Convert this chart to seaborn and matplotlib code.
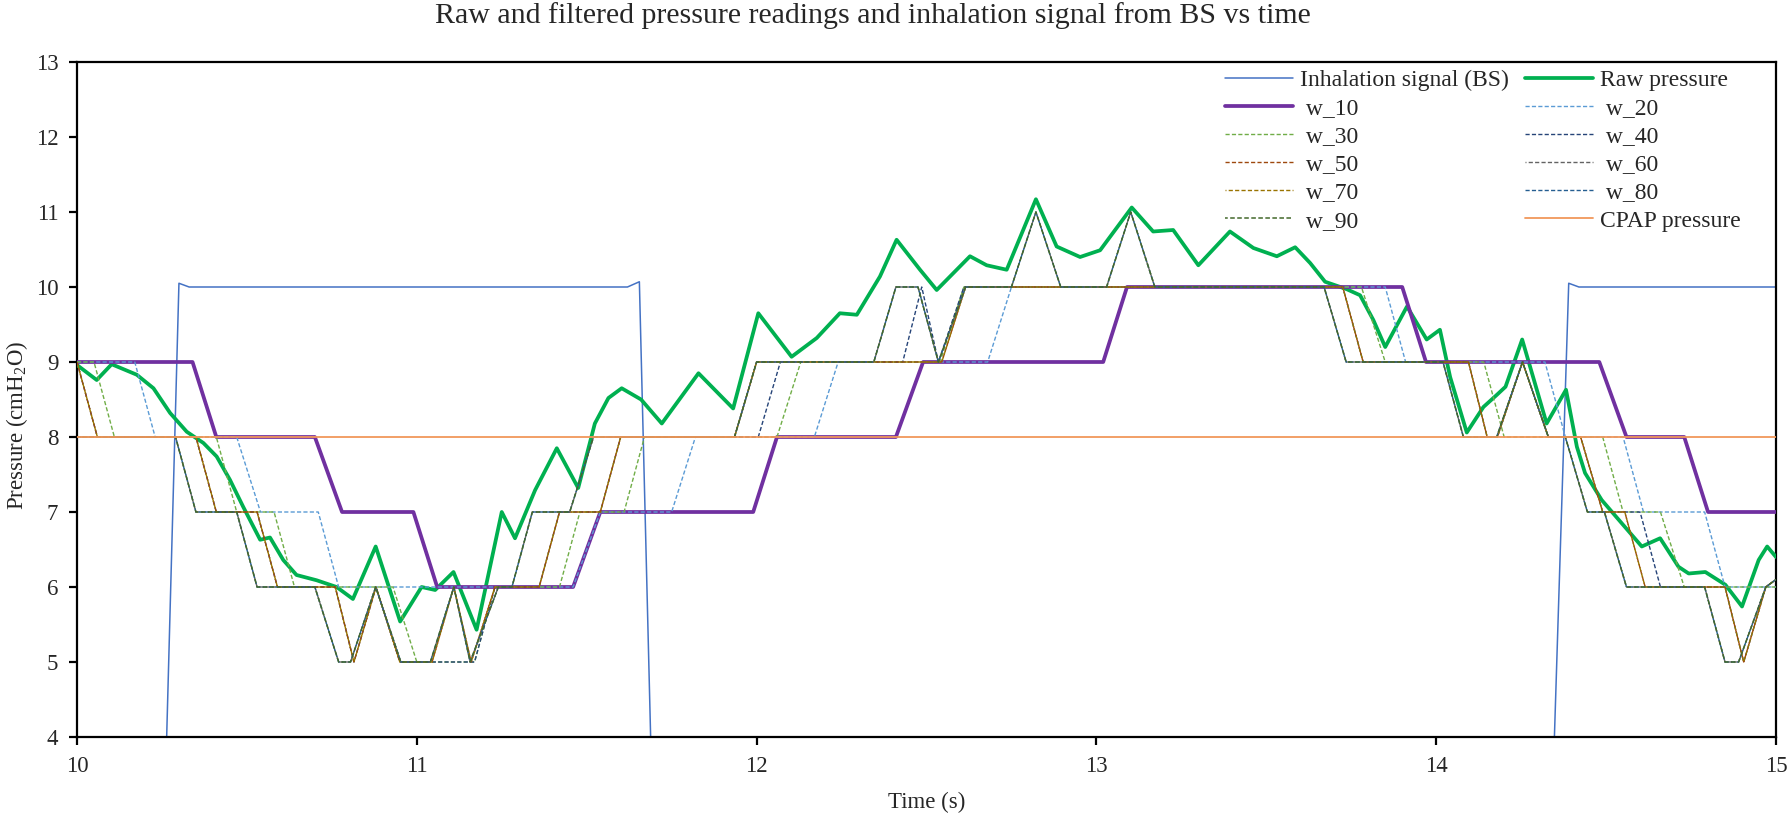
import numpy as np
import pandas as pd
import matplotlib
matplotlib.use('Agg')
import matplotlib.pyplot as plt
from matplotlib.lines import Line2D
import seaborn as sns

# ---- data (time in s, pressure in cmH2O) ----
inh_t = [10.00, 10.24, 10.30, 10.33, 11.62, 11.655, 11.71, 14.32, 14.39, 14.42, 15.00]
inh_v = [0, 0, 10.05, 10, 10, 10.07, 0, 0, 10.05, 10, 10]

raw_t = [10.000, 10.058, 10.102, 10.176, 10.225, 10.274, 10.323, 10.372, 10.411, 10.450,
         10.489, 10.539, 10.568, 10.607, 10.646, 10.705, 10.764, 10.812, 10.879, 10.951,
         11.014, 11.054, 11.108, 11.176, 11.250, 11.289, 11.348, 11.412, 11.475, 11.524,
         11.564, 11.603, 11.660, 11.721, 11.829, 11.931, 12.005, 12.103, 12.177, 12.245,
         12.295, 12.363, 12.412, 12.481, 12.530, 12.628, 12.677, 12.736, 12.822, 12.883,
         12.952, 13.011, 13.104, 13.167, 13.226, 13.300, 13.393, 13.462, 13.531, 13.585,
         13.629, 13.673, 13.737, 13.776, 13.815, 13.850, 13.914, 13.972, 14.011, 14.041,
         14.090, 14.139, 14.178, 14.204, 14.253, 14.325, 14.382, 14.414, 14.438, 14.487,
         14.546, 14.605, 14.659, 14.713, 14.743, 14.792, 14.851, 14.900, 14.949, 14.974,
         15.000]
raw_v = [8.96, 8.76, 8.97, 8.83, 8.65, 8.32, 8.07, 7.92, 7.74, 7.43,
         7.07, 6.63, 6.66, 6.36, 6.16, 6.09, 6.00, 5.84, 6.54, 5.54,
         6.00, 5.96, 6.20, 5.43, 7.00, 6.65, 7.29, 7.85, 7.32, 8.18,
         8.52, 8.65, 8.50, 8.18, 8.85, 8.38, 9.65, 9.07, 9.32, 9.65,
         9.63, 10.14, 10.63, 10.23, 9.96, 10.41, 10.29, 10.23, 11.17, 10.54,
         10.40, 10.49, 11.06, 10.74, 10.76, 10.29, 10.74, 10.52, 10.41, 10.53,
         10.32, 10.07, 9.97, 9.89, 9.56, 9.20, 9.74, 9.30, 9.43, 8.80,
         8.06, 8.40, 8.56, 8.67, 9.30, 8.18, 8.63, 7.87, 7.52, 7.16,
         6.85, 6.54, 6.65, 6.27, 6.18, 6.20, 6.03, 5.74, 6.36, 6.54,
         6.40]

w10_t = [10.00, 10.34, 10.41, 10.70, 10.78, 10.99, 11.06, 11.46, 11.54, 11.99, 12.06,
         12.41, 12.49, 13.02, 13.09, 13.90, 13.97, 14.48, 14.56, 14.73, 14.80, 15.00]
w10_v = [9, 9, 8, 8, 7, 7, 6, 6, 7, 7, 8, 8, 9, 9, 10, 10, 9, 9, 8, 8, 7, 7]

w20_t = [10.00, 10.17, 10.23, 10.47, 10.54, 10.71, 10.77, 11.46, 11.54, 11.75, 11.82,
         12.17, 12.24, 12.68, 12.75, 13.85, 13.91, 14.32, 14.38, 14.55, 14.61, 14.79,
         14.85, 15.00]
w20_v = [9, 9, 8, 8, 7, 7, 6, 6, 7, 7, 8, 8, 9, 9, 10, 10, 9, 9, 8, 8, 7, 7, 6, 6]

w30_t = [10.00, 10.05, 10.11, 10.41, 10.47, 10.58, 10.64, 10.93, 11.00, 11.17, 11.23,
         11.42, 11.48, 11.61, 11.67, 12.06, 12.13, 12.54, 12.61, 13.78, 13.85, 14.14,
         14.20, 14.49, 14.55, 14.66, 14.73, 15.00]
w30_v = [9, 9, 8, 8, 7, 7, 6, 6, 5, 5, 6, 6, 7, 7, 8, 8, 9, 9, 10, 10, 9, 9, 8, 8, 7, 7, 6, 6]

w40_t = [10.00, 10.06, 10.35, 10.41, 10.53, 10.59, 10.76, 10.815, 10.88, 10.95, 11.17,
         11.23, 11.36, 11.42, 11.54, 11.60, 12.005, 12.07, 12.43, 12.486, 12.535, 12.61,
         13.725, 13.785, 14.095, 14.15, 14.18, 14.254, 14.33, 14.425, 14.49, 14.60, 14.66,
         14.85, 14.905, 14.97, 15.00]
w40_v = [9, 8, 8, 7, 7, 6, 6, 5, 6, 5, 5, 6, 6, 7, 7, 8, 8, 9, 9, 10, 9, 10, 10, 9, 9, 8,
         8, 9, 8, 8, 7, 7, 6, 6, 5, 6, 6.1]

w50_t = [10.00, 10.06, 10.35, 10.41, 10.53, 10.59, 10.76, 10.815, 10.88, 10.95, 11.045,
         11.109, 11.16, 11.23, 11.36, 11.42, 11.54, 11.60, 11.935, 12.00, 12.545, 12.615,
         13.725, 13.785, 14.095, 14.15, 14.18, 14.254, 14.33, 14.425, 14.49, 14.555, 14.615,
         14.85, 14.905, 14.97, 15.00]
w50_v = [9, 8, 8, 7, 7, 6, 6, 5, 6, 5, 5, 6, 5, 6, 6, 7, 7, 8, 8, 9, 9, 10, 10, 9, 9, 8,
         8, 9, 8, 8, 7, 7, 6, 6, 5, 6, 6.1]

w90_t = [10.00, 10.29, 10.35, 10.47, 10.53, 10.70, 10.77, 10.805, 10.879, 10.953, 11.04,
         11.109, 11.157, 11.24, 11.28, 11.34, 11.45, 11.52, 11.935, 12.00, 12.345, 12.41,
         12.475, 12.535, 12.615, 12.75, 12.822, 12.895, 13.03, 13.101, 13.172, 13.67,
         13.735, 14.02, 14.08, 14.178, 14.254, 14.33, 14.38, 14.445, 14.495, 14.56, 14.79,
         14.85, 14.89, 14.97, 15.00]
w90_v = [8, 8, 7, 7, 6, 6, 5, 5, 6, 5, 5, 6, 5, 6, 6, 7, 7, 8, 8, 9, 9, 10, 10, 9, 10,
         10, 11, 10, 10, 11, 10, 10, 9, 9, 8, 8, 9, 8, 8, 7, 7, 6, 6, 5, 5, 6, 6.1]

cpap_t = [10.0, 15.0]
cpap_v = [8, 8]

names = ['Inhalation signal (BS)', 'Raw pressure', ' w_10', ' w_20', ' w_30', ' w_40',
         ' w_50', ' w_60', ' w_70', ' w_80', ' w_90', 'CPAP pressure']

sns.set_theme(style='white')
plt.rcParams['font.family'] = ['Liberation Serif', 'DejaVu Serif']
plt.rcParams['mathtext.fontset'] = 'custom'
plt.rcParams['mathtext.rm'] = 'Liberation Serif'
plt.rcParams['mathtext.it'] = 'Liberation Serif:italic'

fig = plt.figure(figsize=(17.92, 8.16), dpi=100)
ax = fig.add_axes([77 / 1792, 1 - 737 / 816, 1699 / 1792, 675 / 816])

dash = (0, (3, 1.6))
dash2 = (2.3, (3, 1.6))
# name, t, v, colour, width, linestyle
series = [
    (names[0], inh_t, inh_v, '#4472C4', 1.1, '-'),
    (names[1], raw_t, raw_v, '#00B050', 2.7, '-'),
    (names[2], w10_t, w10_v, '#7030A0', 2.7, '-'),
    (names[3], w20_t, w20_v, '#5B9BD5', 1.0, dash),
    (names[4], w30_t, w30_v, '#70AD47', 1.0, dash),
    (names[5], w40_t, w40_v, '#264478', 1.0, dash),
    (names[6], w50_t, w50_v, '#9E480E', 1.0, dash),
    (names[7], w90_t, w90_v, '#636363', 1.0, dash2),
    (names[8], w50_t, w50_v, '#997300', 1.0, dash2),
    (names[9], w90_t, w90_v, '#255E91', 1.0, dash),
    (names[10], w90_t, w90_v, '#43682B', 1.1, (1.2, (3, 1.6))),
    (names[11], cpap_t, cpap_v, '#F1975A', 1.3, '-'),
]

handles = []
for i, (name, t, v, c, lw, ls) in enumerate(series):
    df = pd.DataFrame({'Time': t, 'Pressure': v})
    sns.lineplot(data=df, x='Time', y='Pressure', ax=ax, color=c, linewidth=lw,
                 linestyle=ls, estimator=None, sort=False, zorder=2 + i)
    handles.append(Line2D([0], [0], color=c, linewidth=lw, linestyle=ls))

ax.set_xlim(10, 15)
ax.set_ylim(4, 13)
ax.set_xticks(range(10, 16))
ax.set_yticks(range(4, 14))
for s in ax.spines.values():
    s.set_color('black')
    s.set_linewidth(1.6)
ax.tick_params(axis='both', direction='out', length=5.5, width=1.6, color='black',
               labelsize=16.5, pad=8, bottom=True, left=True, top=False, right=False)
ax.set_xlabel('Time (s)', fontsize=16.5)
ax.set_ylabel('Pressure (cmH$_2$O)', fontsize=16.5)
ax.xaxis.set_label_coords(0.5, -0.081)
ax.yaxis.set_label_coords(-0.0275, 0.462)

order = [0, 2, 4, 6, 8, 10, 1, 3, 5, 7, 9, 11]
ax.legend([handles[k] for k in order], [names[k] for k in order], ncol=2,
          loc='upper left', bbox_to_anchor=(0.6754, 0.989), frameon=False,
          fontsize=17, handlelength=2.88, handletextpad=0.32, columnspacing=0.66,
          labelspacing=0.28, borderpad=0, borderaxespad=0)

fig.text(0.487, 1 - 16 / 816, 'Raw and filtered pressure readings and inhalation signal from BS vs time',
         ha='center', va='center', fontsize=21.5)

fig.savefig('out.png', dpi=100)
plt.close()
